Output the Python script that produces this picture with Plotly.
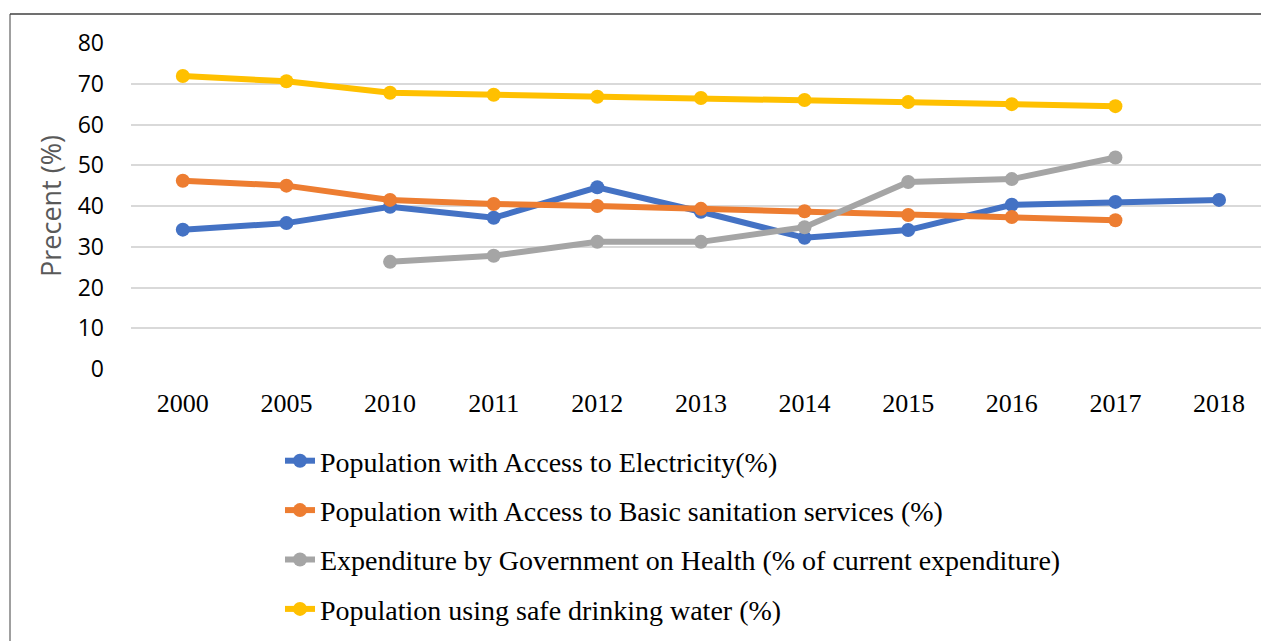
import plotly.graph_objects as go

years = ["2000", "2005", "2010", "2011", "2012", "2013", "2014", "2015", "2016", "2017", "2018"]
electricity = [34.2, 35.8, 39.8, 37.1, 44.6, 38.6, 32.2, 34.1, 40.3, 41.0, 41.5]
sanitation = [46.2, 45.0, 41.5, 40.5, 40.0, 39.3, 38.7, 37.8, 37.3, 36.5, None]
health = [None, None, 26.3, 27.8, 31.2, 31.2, 34.8, 45.9, 46.6, 51.9, None]
water = [71.9, 70.6, 67.8, 67.3, 66.8, 66.5, 66.0, 65.5, 65.0, 64.5, None]

series_names = [
    "Population with Access to Electricity(%)",
    "Population with Access to Basic sanitation services (%)",
    "Expenditure by Government on Health (% of current expenditure)",
    "Population using safe drinking water (%)",
]
series_values = [electricity, sanitation, health, water]
colors = ["#4472C4", "#ED7D31", "#A5A5A5", "#FFC000"]

fig = go.Figure()
for i, (name, vals, col) in enumerate(zip(series_names, series_values, colors)):
    fig.add_trace(go.Scatter(
        x=years, y=vals, name=name, mode="lines+markers",
        line=dict(color=col, width=6),
        marker=dict(color=col, size=14),
        connectgaps=False,
        legendgroup=f"g{i}",
    ))

W, H = 1261, 641
ml, mr, mt, mb = 131, 0, 43, 272
pw = W - ml - mr
ph = H - mt - mb

def px_x(p):
    return (p - ml) / pw

def px_y(p):
    return (H - mb - p) / ph

serif = "Liberation Serif, Times New Roman, serif"

fig.update_layout(
    width=W, height=H,
    margin=dict(l=ml, r=mr, t=mt, b=mb, pad=0, autoexpand=False),
    paper_bgcolor="white", plot_bgcolor="white",
    showlegend=True,
    legend=dict(
        orientation="v",
        x=px_x(280), y=px_y(436), xanchor="left", yanchor="top",
        font=dict(family=serif, size=28, color="#000000"),
        tracegroupgap=10,
        bgcolor="rgba(0,0,0,0)",
    ),
    xaxis=dict(
        type="category", range=[-0.5, 10.405],
        showgrid=False, zeroline=False, showline=False,
        tickfont=dict(family=serif, size=26, color="#000000"),
        ticks="", ticklabelstandoff=16,
    ),
    yaxis=dict(
        range=[0, 80], dtick=10,
        showgrid=True, gridcolor="#D9D9D9", gridwidth=1.5,
        zeroline=False, showline=False,
        tickfont=dict(family="Open Sans", size=23, color="#000000"),
        ticks="", ticklabelstandoff=26,
        title=dict(text="Precent (%)", font=dict(family="Open Sans", size=27, color="#595959"), standoff=8),
    ),
    shapes=[
        dict(type="line", xref="paper", yref="paper",
             x0=px_x(10), x1=px_x(1261), y0=px_y(14), y1=px_y(14),
             line=dict(color="#404040", width=1.5)),
        dict(type="line", xref="paper", yref="paper",
             x0=px_x(10), x1=px_x(10), y0=px_y(14), y1=px_y(641),
             line=dict(color="#404040", width=1)),
    ],
)

fig.write_html("out.html")
